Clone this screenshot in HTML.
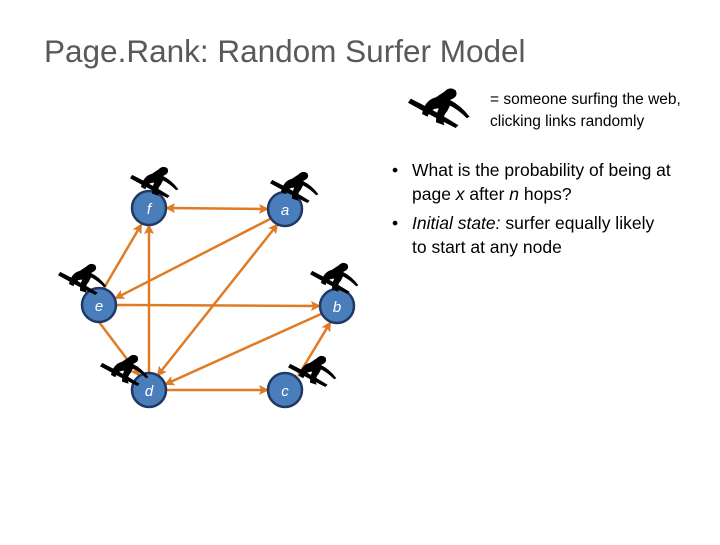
<!DOCTYPE html>
<html><head><style>
body{margin:0;width:720px;height:540px;background:#fff;overflow:hidden;font-family:"Liberation Sans",sans-serif}
</style></head><body>
<svg width="720" height="540" xmlns="http://www.w3.org/2000/svg">
<defs>
<g id="s">
<path d="M0,12 Q18,22 34,30 L36,28 Q20,18 2,9 Z" fill="#000"/>
<path d="M10,20 Q12,10 20,8 L26,4 Q30,0 34,3 Q36,7 32,9 L30,10 Q38,14 44,22 L42,23 Q36,17 30,14 L28,18 Q24,22 26,28 L20,26 Q20,20 22,16 Q16,16 14,22 Z" fill="#000"/>
</g>
<marker id="ar" markerWidth="10" markerHeight="10" refX="8" refY="5" orient="auto" markerUnits="userSpaceOnUse">
<path d="M0,0 L10,5 L0,10 L2,5 Z" fill="#e07b24"/>
</marker>
<marker id="as" markerWidth="10" markerHeight="10" refX="2" refY="5" orient="auto" markerUnits="userSpaceOnUse">
<path d="M10,0 L0,5 L10,10 L8,5 Z" fill="#e07b24"/>
</marker>
</defs>
<text x="44" y="62" font-size="31.5" fill="#595959" font-family="Liberation Sans,sans-serif">Page.Rank: Random Surfer Model</text>
<use href="#s" transform="translate(408,86) scale(1.4)"/>
<g font-size="15.5" fill="#000">
<text x="490" y="104">= someone surfing the web,</text>
<text x="490" y="126">clicking links randomly</text>
</g>
<g font-size="17.5" fill="#000">
<text x="392" y="176">•</text><text x="412" y="176">What is the probability of being at</text>
<text x="412" y="200">page <tspan font-style="italic">x</tspan> after <tspan font-style="italic">n</tspan> hops?</text>
<text x="392" y="229">•</text><text x="412" y="229"><tspan font-style="italic">Initial state:</tspan> surfer equally likely</text>
<text x="412" y="253">to start at any node</text>
</g>
<g stroke="#e07b24" stroke-width="2.5" fill="none">
<line x1="167" y1="208" x2="267" y2="209" marker-end="url(#ar)" marker-start="url(#as)"/>
<line x1="270" y1="219" x2="116" y2="298" marker-end="url(#ar)"/>
<line x1="104" y1="288" x2="141" y2="225" marker-end="url(#ar)"/>
<line x1="149" y1="373" x2="149" y2="226" marker-end="url(#ar)"/>
<line x1="158" y1="375" x2="277" y2="225" marker-end="url(#ar)" marker-start="url(#as)"/>
<line x1="117" y1="305" x2="319" y2="306" marker-end="url(#ar)"/>
<line x1="321" y1="314" x2="166" y2="384" marker-end="url(#ar)"/>
<line x1="99" y1="322" x2="139" y2="375" marker-end="url(#ar)"/>
<line x1="167" y1="390" x2="267" y2="390" marker-end="url(#ar)"/>
<line x1="298" y1="376" x2="330" y2="323" marker-end="url(#ar)"/>
</g>
<g fill="#4a7ebb" stroke="#1f3864" stroke-width="2.5">
<circle cx="149" cy="208" r="17"/><circle cx="285" cy="209" r="17"/>
<circle cx="99" cy="305" r="17"/><circle cx="337" cy="306" r="17"/>
<circle cx="149" cy="390" r="17"/><circle cx="285" cy="390" r="17"/>
</g>
<g fill="#fff" font-size="15" font-style="italic" text-anchor="middle">
<text x="149" y="214">f</text><text x="285" y="215">a</text>
<text x="99" y="311">e</text><text x="337" y="312">b</text>
<text x="149" y="396">d</text><text x="285" y="396">c</text>
</g>
<use href="#s" transform="translate(130,165) scale(1.1)"/>
<use href="#s" transform="translate(270,170) scale(1.1)"/>
<use href="#s" transform="translate(58,262) scale(1.1)"/>
<use href="#s" transform="translate(310,261) scale(1.1)"/>
<use href="#s" transform="translate(100,353) scale(1.1)"/>
<use href="#s" transform="translate(288,354) scale(1.1)"/>
</svg>
</body></html>
